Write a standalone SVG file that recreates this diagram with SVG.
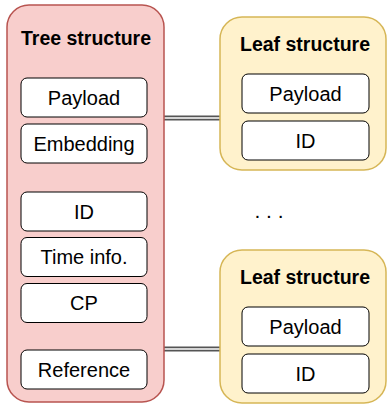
<svg xmlns="http://www.w3.org/2000/svg" width="387" height="405" viewBox="0 0 387 405">
<style>
text{font-family:"Liberation Sans",Arial,sans-serif;text-anchor:middle;fill:#000}
.t{font-size:19.5px;font-weight:bold}
.f{font-size:20px}
.tree{fill:#f8cecc;stroke:#b85450;stroke-width:1.5}
.leaf{fill:#fff2cc;stroke:#d6b656;stroke-width:1.5}
.box{fill:#fff;stroke:#000;stroke-width:1}
.lo{stroke:#555;stroke-width:5;fill:none}
.li{stroke:#fff;stroke-width:1.5;fill:none}
</style>
<g id="connectors">
<line class="lo" x1="164" y1="118" x2="220" y2="118"/>
<line class="li" x1="164" y1="118" x2="220" y2="118"/>
<line class="lo" x1="164" y1="349" x2="220" y2="349"/>
<line class="li" x1="164" y1="349" x2="220" y2="349"/>
</g>
<g id="tree">
<rect class="tree" x="7" y="5" width="157" height="397" rx="22"/>
<text class="t" x="86" y="44.5">Tree structure</text>
</g>
<g id="tree-payload"><rect class="box" x="21" y="78" width="126" height="39" rx="6"/><text class="f" x="84" y="104.5">Payload</text></g>
<g id="tree-embedding"><rect class="box" x="21" y="124" width="126" height="39" rx="6"/><text class="f" x="84" y="150.5">Embedding</text></g>
<g id="tree-id"><rect class="box" x="21" y="192" width="126" height="39" rx="6"/><text class="f" x="84" y="218.5">ID</text></g>
<g id="tree-time"><rect class="box" x="21" y="237.5" width="126" height="39" rx="6"/><text class="f" x="84" y="264">Time info.</text></g>
<g id="tree-cp"><rect class="box" x="21" y="283.5" width="126" height="39" rx="6"/><text class="f" x="84" y="310">CP</text></g>
<g id="tree-reference"><rect class="box" x="21" y="350" width="126" height="39" rx="6"/><text class="f" x="84" y="376.5">Reference</text></g>
<g id="leaf1">
<rect class="leaf" x="220" y="17" width="166" height="153" rx="22"/>
<text class="t" x="305" y="51">Leaf structure</text>
</g>
<g id="leaf1-payload"><rect class="box" x="242" y="74" width="127" height="39" rx="6"/><text class="f" x="305.5" y="100.5">Payload</text></g>
<g id="leaf1-id"><rect class="box" x="242" y="121" width="127" height="39" rx="6"/><text class="f" x="305.5" y="147.5">ID</text></g>
<g id="leaf2">
<rect class="leaf" x="220" y="250" width="166" height="153" rx="22"/>
<text class="t" x="305" y="284">Leaf structure</text>
</g>
<g id="leaf2-payload"><rect class="box" x="242" y="307" width="127" height="39" rx="6"/><text class="f" x="305.5" y="333.5">Payload</text></g>
<g id="leaf2-id"><rect class="box" x="242" y="354" width="127" height="39" rx="6"/><text class="f" x="305.5" y="380.5">ID</text></g>
<g id="ellipsis"><text x="269" y="218" style="font-size:21px">. . .</text></g>
</svg>
